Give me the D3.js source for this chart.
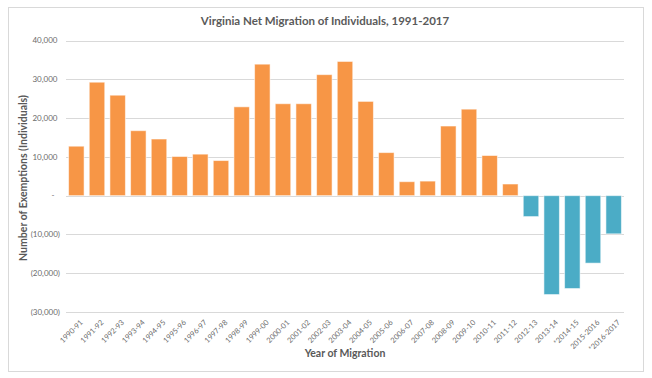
<!DOCTYPE html>
<html>
<head>
<meta charset="utf-8">
<script src="https://cdn.jsdelivr.net/npm/d3@7"></script>
<style>
  body { margin: 0; background: #fff; }
  svg text { font-family: Lato, "Open Sans", sans-serif; fill: #595959; }
</style>
</head>
<body>
<svg id="chart"></svg>
<script>
const svgWidth = 652;
const svgHeight = 378;
const plot = { left: 66, right: 624, top: 40.5, bottom: 312 };

// years of migration (x categories)
const categories = [
  "1990-91", "1991-92", "1992-93", "1993-94", "1994-95", "1995-96", "1996-97",
  "1997-98", "1998-99", "1999-00", "2000-01", "2001-02", "2002-03", "2003-04",
  "2004-05", "2005-06", "2006-07", "2007-08", "2008-09", "2009-10", "2010-11",
  "2011-12", "2012-13", "2013-14", "*2014-15", "2015-2016", "*2016-2017"
];

// net migration (number of exemptions)
const netMigration = [
  12750, 29250, 25900, 16750, 14600, 10100, 10700,
  9050, 22900, 33900, 23700, 23700, 31200, 34600,
  24300, 11100, 3600, 3750, 17950, 22300, 10350,
  3000, -5400, -25500, -23950, -17400, -9850
];

const yTicks = [40000, 30000, 20000, 10000, 0, -10000, -20000, -30000];

const positiveColor = "#F79646";
const negativeColor = "#4BACC6";

const svg = d3.select("#chart")
  .attr("width", svgWidth)
  .attr("height", svgHeight);

// chart border
svg.append("rect")
  .attr("x", 8.5).attr("y", 7.5)
  .attr("width", 635).attr("height", 364)
  .attr("fill", "#fff")
  .attr("stroke", "#D9D9D9");

const x = d3.scaleBand()
  .domain(categories)
  .range([plot.left, plot.right])
  .paddingInner(0.25)
  .paddingOuter(0.125);

const y = d3.scaleLinear()
  .domain([-30000, 40000])
  .range([plot.bottom, plot.top]);

// gridlines
svg.append("g")
  .selectAll("line")
  .data(yTicks)
  .join("line")
  .attr("x1", plot.left).attr("x2", plot.right)
  .attr("y1", d => Math.round(y(d)) + 0.5)
  .attr("y2", d => Math.round(y(d)) + 0.5)
  .attr("stroke", "#D9D9D9")
  .attr("stroke-width", 1);

// y tick labels, accounting style
const fmt = d3.format(",");
svg.append("g")
  .selectAll("text")
  .data(yTicks)
  .join("text")
  .attr("x", d => d < 0 ? 60 : (d === 0 ? 54.5 : 57.5))
  .attr("y", d => y(d))
  .attr("dy", "0.35em")
  .attr("text-anchor", "end")
  .style("font-size", "8px")
  .style("fill", "#6b6b6b")
  .text(d => d === 0 ? "-" : (d < 0 ? "(" + fmt(-d) + ")" : fmt(d)));

// bars
svg.append("g")
  .selectAll("rect")
  .data(netMigration)
  .join("rect")
  .attr("x", (d, i) => x(categories[i]))
  .attr("width", x.bandwidth())
  .attr("y", d => y(Math.max(0, d)))
  .attr("height", d => Math.abs(y(d) - y(0)))
  .attr("fill", d => d < 0 ? negativeColor : positiveColor)
  .attr("stroke", "#fff")
  .attr("stroke-opacity", 0.55)
  .attr("stroke-width", 1);

// x tick labels, rotated
svg.append("g")
  .selectAll("text")
  .data(categories)
  .join("text")
  .attr("transform", d => "translate(" + (x(d) + x.bandwidth() / 2 + 7) + "," + 323 + ") rotate(-45)")
  .attr("text-anchor", "end")
  .style("font-size", "7.5px")
  .style("fill", "#6b6b6b")
  .text(d => d);

// title
svg.append("text")
  .attr("x", 325)
  .attr("y", 24.5)
  .attr("text-anchor", "middle")
  .style("font-size", "11.5px")
  .style("font-weight", "bold")
  .style("fill", "#5a5a5a")
  .text("Virginia Net Migration of Individuals, 1991-2017");

// axis titles
svg.append("text")
  .attr("x", (plot.left + plot.right) / 2)
  .attr("y", 357)
  .attr("text-anchor", "middle")
  .style("font-size", "10.5px")
  .style("font-weight", "bold")
  .text("Year of Migration");

svg.append("text")
  .attr("transform", "translate(27," + 178 + ") rotate(-90)")
  .attr("text-anchor", "middle")
  .style("font-size", "10.5px")
  .style("font-weight", "bold")
  .text("Number of Exemptions (Individuals)");
</script>
</body>
</html>
